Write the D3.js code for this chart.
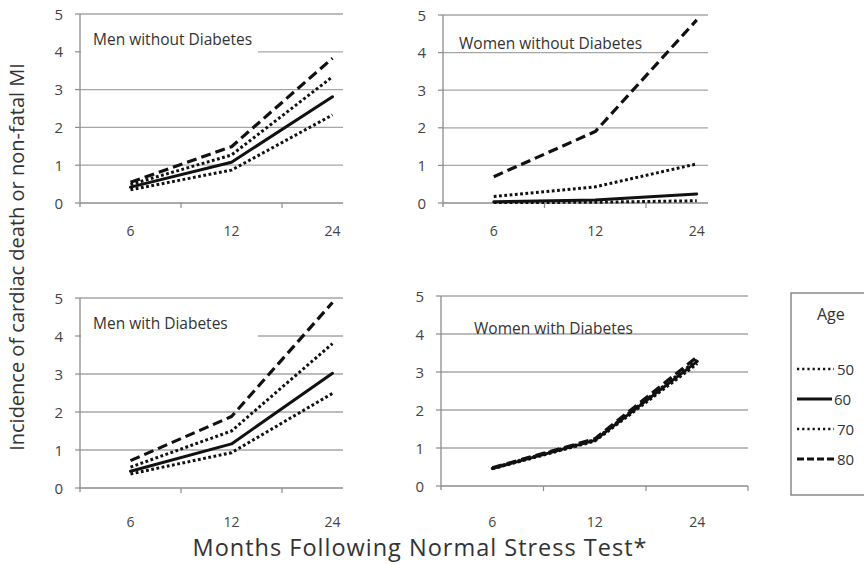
<!DOCTYPE html>
<html>
<head>
<meta charset="utf-8">
<script src="https://cdn.jsdelivr.net/npm/d3@7"></script>
<style>
  html, body { margin: 0; padding: 0; background: #fff; }
  svg { display: block; }
  text { font-family: "Open Sans", "Liberation Sans", sans-serif; fill: #333; }
</style>
</head>
<body>
<svg id="chart" width="864" height="564"></svg>
<script>
// ---- data ----
const months = ["6", "12", "24"];
const yTicks = [0, 1, 2, 3, 4, 5];
const ages = ["50", "60", "70", "80"];
const panelTitles = ["Men without Diabetes", "Women without  Diabetes", "Men with Diabetes", "Women with Diabetes"];

const menNoDiab_50 = [0.35, 0.87, 2.33];
const menNoDiab_60 = [0.42, 1.08, 2.81];
const menNoDiab_70 = [0.49, 1.27, 3.34];
const menNoDiab_80 = [0.55, 1.49, 3.83];

const womenNoDiab_50 = [0.01, 0.02, 0.06];
const womenNoDiab_60 = [0.03, 0.08, 0.24];
const womenNoDiab_70 = [0.17, 0.43, 1.04];
const womenNoDiab_80 = [0.70, 1.90, 4.87];

const menDiab_50 = [0.37, 0.93, 2.49];
const menDiab_60 = [0.44, 1.16, 3.02];
const menDiab_70 = [0.55, 1.50, 3.80];
const menDiab_80 = [0.72, 1.88, 4.88];

const womenDiab_50 = [0.45, 1.18, 3.22];
const womenDiab_60 = [0.46, 1.20, 3.28];
const womenDiab_70 = [0.47, 1.22, 3.32];
const womenDiab_80 = [0.48, 1.24, 3.40];

const panelSeries = [
  [menNoDiab_50, menNoDiab_60, menNoDiab_70, menNoDiab_80],
  [womenNoDiab_50, womenNoDiab_60, womenNoDiab_70, womenNoDiab_80],
  [menDiab_50, menDiab_60, menDiab_70, menDiab_80],
  [womenDiab_50, womenDiab_60, womenDiab_70, womenDiab_80]
];

// ---- styles ----
const seriesStyle = [
  { dash: "2.8,2.5", width: 3,   cap: "butt" },   // 50 dotted
  { dash: null,      width: 3,   cap: "round" },  // 60 solid
  { dash: "2.8,2.5", width: 3,   cap: "butt" },   // 70 dotted
  { dash: "10,5",    width: 3.2, cap: "butt" }    // 80 dashed
];

// ---- layout ----
const layout = [
  { left: 80,  top: 14,  bottom: 203, band: 101,   gridRight: 343, tx: 93,  ty: 45,  cover: [80, 258], labY: 236 },
  { left: 443, top: 15,  bottom: 203, band: 101.5, gridRight: 708, tx: 459, ty: 49,  cover: null,      labY: 236 },
  { left: 80,  top: 298, bottom: 488, band: 101,   gridRight: 343, tx: 93,  ty: 329, cover: [80, 258], labY: 527 },
  { left: 441, top: 296, bottom: 486, band: 102.5, gridRight: 748, tx: 474, ty: 334, cover: null,      labY: 527 }
];

const svg = d3.select("#chart");
const gridColor = "#a6a6a6";
const axisColor = "#8c8c8c";

layout.forEach((L, i) => {
  const g = svg.append("g");
  const x = d3.scaleBand().domain(months).range([L.left, L.left + 3 * L.band]).padding(0);
  const y = d3.scaleLinear().domain([0, 5]).range([L.bottom, L.top]);

  // gridlines
  g.selectAll("line.grid").data(yTicks.filter(d => d > 0)).join("line")
    .attr("x1", L.left).attr("x2", L.gridRight)
    .attr("y1", d => y(d)).attr("y2", d => y(d))
    .attr("stroke", gridColor).attr("stroke-width", 1.3);

  // part of gridline 4 hidden behind the title box
  if (L.cover) {
    g.append("rect").attr("x", L.cover[0] + 1).attr("y", y(4) - 4)
      .attr("width", L.cover[1] - L.cover[0] - 1).attr("height", 8).attr("fill", "#fff");
  }

  // x axis line (0)
  g.append("line").attr("x1", L.left).attr("x2", L.gridRight)
    .attr("y1", y(0)).attr("y2", y(0)).attr("stroke", axisColor).attr("stroke-width", 1.3);
  // y axis line
  g.append("line").attr("x1", L.left).attr("x2", L.left)
    .attr("y1", y(5)).attr("y2", y(0) + 4).attr("stroke", axisColor).attr("stroke-width", 1.3);

  // y ticks
  g.selectAll("line.yt").data(yTicks).join("line")
    .attr("x1", L.left - 5).attr("x2", L.left)
    .attr("y1", d => y(d)).attr("y2", d => y(d))
    .attr("stroke", axisColor).attr("stroke-width", 1.2);
  g.selectAll("text.yl").data(yTicks).join("text")
    .attr("x", L.left - 17).attr("y", d => y(d) + 5.5)
    .attr("text-anchor", "end").attr("font-size", 15).style("fill", "#444")
    .text(d => d);

  // x band ticks
  const bounds = months.slice(1).map(m => x(m));
  g.selectAll("line.xt").data(bounds).join("line")
    .attr("x1", d => d).attr("x2", d => d)
    .attr("y1", y(0)).attr("y2", y(0) + 5)
    .attr("stroke", axisColor).attr("stroke-width", 1.2);
  if (i === 3) {
    g.append("line").attr("x1", L.gridRight).attr("x2", L.gridRight)
      .attr("y1", y(0)).attr("y2", y(0) + 5).attr("stroke", axisColor).attr("stroke-width", 1.2);
  }

  g.selectAll("text.xl").data(months).join("text")
    .attr("x", d => x(d) + x.bandwidth() / 2).attr("y", L.labY)
    .attr("text-anchor", "middle").attr("font-size", 14).style("fill", "#444")
    .text(d => d);

  // title
  g.append("text").attr("x", L.tx).attr("y", L.ty)
    .attr("font-size", 15.5).style("fill", "#333").text(panelTitles[i]);

  // lines
  const line = d3.line().x((d, j) => x(months[j]) + x.bandwidth() / 2).y(d => y(d));
  panelSeries[i].forEach((s, k) => {
    const st = seriesStyle[k];
    const p = g.append("path").attr("d", line(s)).attr("fill", "none")
      .attr("stroke", "#111").attr("stroke-width", st.width)
      .attr("stroke-linecap", st.cap).attr("stroke-linejoin", "round");
    if (st.dash) p.attr("stroke-dasharray", st.dash);
  });
});

// legend
const lg = svg.append("g");
lg.append("rect").attr("x", 791).attr("y", 293).attr("width", 120).attr("height", 202)
  .attr("fill", "#fff").attr("stroke", "#777").attr("stroke-width", 1.3);
lg.append("text").attr("x", 817).attr("y", 320).attr("font-size", 16).style("fill", "#333").text("Age");
const legY = d3.scalePoint().domain(ages).range([369, 459]);
ages.forEach((a, k) => {
  const st = seriesStyle[k];
  const l = lg.append("line").attr("x1", 797).attr("x2", k === 1 ? 832 : 834)
    .attr("y1", legY(a)).attr("y2", legY(a))
    .attr("stroke", "#111").attr("stroke-width", k === 0 || k === 2 ? 2.4 : 2.8);
  if (st.dash) l.attr("stroke-dasharray", k === 3 ? "7,3" : "2.2,3");
  lg.append("text").attr("x", k === 1 ? 834 : 837).attr("y", legY(a) + 5.5).attr("font-size", 15).style("fill", "#333").text(a);
});

// axis titles
svg.append("text").attr("transform", "translate(24,257) rotate(-90)")
  .attr("text-anchor", "middle").attr("font-size", 20).style("fill", "#333")
  .text("Incidence of cardiac death or non-fatal MI");
svg.append("text").attr("x", 420).attr("y", 556)
  .attr("text-anchor", "middle").attr("font-size", 23.5).attr("letter-spacing", 1).style("fill", "#333")
  .text("Months Following Normal Stress Test*");
</script>
</body>
</html>
